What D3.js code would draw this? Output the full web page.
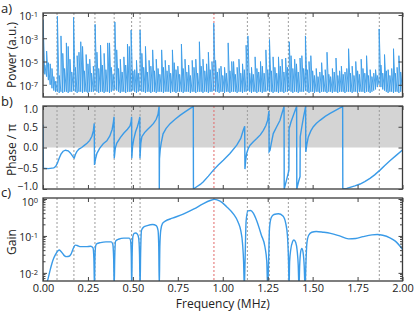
<!DOCTYPE html>
<html>
<head>
<meta charset="utf-8">
<script src="https://cdn.jsdelivr.net/npm/d3@7"></script>
<style>
  body { margin: 0; background: #fff; }
  text { font-family: "Open Sans", sans-serif; fill: #222; }
</style>
</head>
<body>
<div id="chart"></div>
<script>
// ---- data ----
var freqTicks = [0, 0.25, 0.5, 0.75, 1.0, 1.25, 1.5, 1.75, 2.0];
var markerFreqs = [0.078, 0.172, 0.289, 0.396, 0.493, 0.54, 1.137, 1.259, 1.365, 1.462, 1.871];
var redFreq = 0.951;

// panel a: power spectrum, one bin every 0.01 MHz, log10 of power
var binStep = 0.01;
var powerPeakExp = [
  -1.4,-5.3,-4.1,-5.1,-5.2,-5.6,-6.3,-6.7,-1.1,-6.2,
  -2.8,-4.3,-5.6,-3.4,-3.7,-4.8,-5.9,-1.2,-5.5,-4.5,
  -4.2,-3.3,-3.7,-5.8,-4.4,-5.2,-4.8,-6.0,-5.4,-1.8,
  -4.2,-5.6,-3.6,-5.3,-4.3,-5.7,-3.4,-3.4,-5.5,-6.1,
  -1.6,-4.0,-5.6,-4.8,-5.9,-4.6,-5.3,-3.5,-3.7,-2.3,
  -5.8,-5.7,-4.9,-6.0,-2.3,-4.3,-5.5,-3.7,-5.9,-4.9,
  -5.4,-4.0,-5.8,-4.8,-5.6,-6.1,-4.0,-5.5,-4.9,-5.8,
  -5.3,-6.0,-4.0,-5.1,-5.7,-5.4,-6.1,-3.5,-5.6,-4.8,
  -5.9,-5.3,-6.2,-4.9,-5.5,-4.8,-6.0,-3.3,-5.4,-4.8,
  -5.8,-5.2,-4.2,-5.7,-5.0,-1.7,-4.9,-5.9,-5.6,-5.4,
  -6.2,-5.5,-6.0,-3.4,-5.8,-5.0,-5.0,-6.1,-5.5,-4.8,
  -6.0,-5.2,-5.7,-3.6,-2.8,-6.0,-5.5,-6.1,-4.6,-5.6,
  -5.9,-5.0,-5.4,-6.0,-4.0,-5.7,-3.1,-5.8,-4.6,-5.5,
  -6.0,-4.6,-5.4,-4.8,-5.9,-4.7,-5.5,-3.3,-4.5,-5.6,
  -4.8,-5.2,-5.9,-4.7,-4.5,-5.6,-2.8,-5.7,-5.0,-4.5,
  -5.8,-6.2,-5.6,-6.3,-5.9,-5.1,-6.2,-5.7,-4.2,-6.1,
  -6.3,-5.6,-5.9,-4.7,-6.2,-5.8,-5.4,-6.1,-5.9,-5.6,
  -3.9,-6.0,-5.4,-6.2,-5.0,-5.8,-6.1,-4.8,-5.6,-6.0,
  -4.5,-6.2,-5.7,-6.3,-6.0,-5.7,-6.2,-2.2,-5.3,-6.0,
  -4.4,-5.8,-5.7,-6.2,-5.6,-3.9,-6.0,-5.5,-4.5,-5.9,
  -4.8
];
var powerFloorExp = [
  -6.0,-6.1,-6.3,-6.6,-7.0,-7.3,-7.5,-7.6,-7.6,-7.7,
  -7.6,-7.7,-7.6,-7.6,-7.7,-7.6,-7.6,-7.5,-7.6,-7.7,
  -7.6,-7.6,-7.7,-7.6,-7.6,-7.7,-7.6,-7.6,-7.6,-7.5,
  -7.6,-7.7,-7.6,-7.6,-7.7,-7.6,-7.6,-7.7,-7.6,-7.5,
  -7.4,-7.5,-7.6,-7.7,-7.6,-7.6,-7.7,-7.6,-7.6,-7.6,
  -7.5,-7.6,-7.7,-7.6,-7.5,-7.6,-7.6,-7.7,-7.6,-7.6,
  -7.7,-7.6,-7.6,-7.7,-7.6,-7.6,-7.6,-7.7,-7.6,-7.6,
  -7.6,-7.7,-7.6,-7.6,-7.7,-7.6,-7.6,-7.6,-7.7,-7.6,
  -7.6,-7.6,-7.7,-7.6,-7.6,-7.7,-7.6,-7.6,-7.6,-7.7,
  -7.6,-7.6,-7.7,-7.6,-7.6,-7.5,-7.6,-7.6,-7.7,-7.6,
  -7.6,-7.7,-7.6,-7.6,-7.7,-7.6,-7.6,-7.6,-7.7,-7.6,
  -7.6,-7.7,-7.6,-7.6,-7.5,-7.6,-7.7,-7.6,-7.6,-7.7,
  -7.6,-7.6,-7.7,-7.6,-7.6,-7.5,-7.6,-7.6,-7.7,-7.6,
  -7.6,-7.7,-7.6,-7.6,-7.7,-7.6,-7.6,-7.5,-7.6,-7.7,
  -7.6,-7.6,-7.7,-7.6,-7.6,-7.6,-7.5,-7.6,-7.7,-7.6,
  -7.6,-7.7,-7.6,-7.6,-7.7,-7.6,-7.6,-7.6,-7.7,-7.6,
  -7.6,-7.7,-7.6,-7.6,-7.7,-7.6,-7.6,-7.6,-7.7,-7.6,
  -7.6,-7.6,-7.7,-7.6,-7.6,-7.7,-7.6,-7.6,-7.6,-7.7,
  -7.6,-7.6,-7.7,-7.6,-7.5,-7.4,-7.2,-7.0,-7.2,-7.4,
  -7.5,-7.6,-7.7,-7.6,-7.6,-7.7,-7.6,-7.6,-7.7,-7.6,
  -7.6
];
var powerTickExp = [-1, -3, -5, -7];

// panel b: phase / pi
var phaseFreq = [
  0.000,0.002,0.030,0.060,0.070,0.080,0.090,0.100,0.112,0.125,0.140,0.152,0.162,0.170,0.174,
  0.180,0.188,0.200,0.215,0.230,0.245,0.260,0.272,0.280,0.285,0.2865,0.292,0.300,0.315,0.335,
  0.355,0.372,0.385,0.392,0.395,0.3965,0.402,0.410,0.430,0.450,0.470,0.484,0.490,0.493,0.494,
  0.498,0.505,0.515,0.525,0.533,0.5385,0.5395,0.544,0.550,0.565,0.580,0.600,0.615,0.630,0.640,
  0.646,0.647,0.648,0.652,0.658,0.668,0.685,0.707,0.735,0.762,0.790,0.815,0.836,0.837,0.855,
  0.875,0.892,0.920,0.948,0.975,1.003,1.040,1.078,1.100,1.114,1.122,1.1235,1.128,1.133,1.142,
  1.152,1.170,1.189,1.210,1.226,1.240,1.250,1.257,1.258,1.263,1.270,1.281,1.300,1.318,1.328,
  1.335,1.341,1.342,1.355,1.368,1.369,1.380,1.395,1.405,1.411,1.412,1.422,1.430,1.431,1.440,
  1.450,1.458,1.461,1.462,1.468,1.476,1.490,1.504,1.520,1.541,1.570,1.597,1.630,1.655,1.667,
  1.668,1.690,1.708,1.735,1.764,1.790,1.819,1.845,1.875,1.900,1.930,1.965,2.000
];
var phaseVal = [
  0.55,-0.50,-0.51,-0.49,-0.46,-0.38,-0.26,-0.16,-0.09,-0.065,-0.08,-0.13,-0.19,-0.24,-0.25,
  -0.17,-0.10,-0.04,0.00,0.05,0.10,0.17,0.27,0.40,0.58,-0.42,-0.28,-0.14,-0.02,0.09,
  0.16,0.28,0.44,0.62,0.74,-0.26,-0.02,0.10,0.24,0.35,0.44,0.52,0.62,0.74,-0.26,
  0.02,0.20,0.38,0.50,0.62,0.74,-0.26,0.10,0.26,0.36,0.43,0.51,0.58,0.68,0.80,
  0.99,-1.00,-0.27,-0.05,0.12,0.33,0.46,0.575,0.68,0.775,0.86,0.93,0.99,-1.00,-0.945,
  -0.89,-0.825,-0.69,-0.545,-0.42,-0.305,-0.145,0.055,0.22,0.415,0.51,-0.52,-0.30,-0.145,-0.02,
  0.055,0.14,0.215,0.31,0.415,0.53,0.66,0.88,-0.10,-0.065,0.10,0.335,0.50,0.65,0.80,
  0.90,0.99,-1.00,-0.78,-0.55,0.45,0.62,0.80,0.92,0.99,-1.00,-0.82,-0.70,0.26,0.50,
  0.75,0.92,0.99,-0.105,0.08,0.255,0.40,0.50,0.58,0.655,0.75,0.82,0.90,0.96,0.99,
  -1.00,-0.985,-0.96,-0.925,-0.88,-0.82,-0.745,-0.66,-0.545,-0.44,-0.32,-0.19,-0.06
];
var phaseTicks = [-1, -0.5, 0, 0.5, 1];

// panel c: gain, log10 values
var gainFreq = [
  0.020,0.030,0.040,0.050,0.060,0.070,0.080,0.090,0.100,0.110,0.120,0.132,0.145,0.155,0.165,
  0.172,0.180,0.190,0.210,0.240,0.265,0.278,0.283,0.2865,0.289,0.293,0.300,0.320,0.350,0.380,
  0.388,0.393,0.396,0.399,0.404,0.420,0.450,0.480,0.487,0.491,0.4935,0.496,0.500,0.507,0.515,
  0.525,0.532,0.537,0.540,0.543,0.548,0.560,0.580,0.610,0.630,0.640,0.644,0.647,0.650,0.655,
  0.665,0.680,0.720,0.780,0.840,0.890,0.930,0.955,0.985,1.020,1.060,1.085,1.100,1.110,1.116,
  1.120,1.124,1.130,1.140,1.155,1.170,1.190,1.215,1.235,1.245,1.250,1.255,1.260,1.270,1.285,
  1.310,1.335,1.350,1.360,1.366,1.369,1.372,1.378,1.388,1.396,1.406,1.414,1.420,1.424,1.428,
  1.434,1.440,1.447,1.453,1.458,1.463,1.468,1.478,1.495,1.520,1.560,1.600,1.650,1.700,1.740,
  1.780,1.830,1.860,1.890,1.930,1.960,2.000
];
var gainExp = [
  -2.30,-2.12,-1.92,-1.74,-1.60,-1.50,-1.42,-1.38,-1.42,-1.48,-1.54,-1.56,-1.55,-1.50,-1.38,
  -1.30,-1.25,-1.26,-1.29,-1.29,-1.28,-1.32,-1.60,-2.40,-1.60,-1.27,-1.21,-1.18,-1.16,-1.16,
  -1.22,-1.60,-2.40,-1.60,-1.14,-1.09,-1.06,-1.06,-1.12,-1.50,-2.40,-1.50,-1.02,-0.93,-0.92,
  -0.95,-1.05,-1.50,-2.40,-1.50,-0.85,-0.76,-0.72,-0.69,-0.72,-0.85,-1.30,-2.40,-1.30,-0.85,
  -0.66,-0.60,-0.52,-0.41,-0.27,-0.13,-0.04,-0.01,-0.06,-0.20,-0.41,-0.62,-0.85,-1.20,-1.70,
  -2.40,-1.70,-0.60,-0.32,-0.31,-0.38,-0.60,-0.98,-1.30,-1.70,-2.40,-1.70,-0.80,-0.50,-0.42,
  -0.40,-0.46,-0.65,-1.00,-1.70,-2.40,-1.70,-1.38,-1.16,-1.11,-1.18,-1.40,-1.80,-2.40,-1.80,
  -1.42,-1.34,-1.45,-1.80,-2.40,-1.70,-1.20,-0.98,-0.90,-0.88,-0.90,-0.93,-1.00,-1.08,-1.07,
  -1.02,-0.97,-0.96,-0.98,-1.05,-1.14,-1.36
];
var gainTickExp = [0, -1, -2];

// ---- layout ----
var W = 416, H = 312;
var left = 43, right = 402.5;
var panelA = {top: 13, bottom: 97},
    panelB = {top: 106, bottom: 189},
    panelC = {top: 198, bottom: 281};
var blue = "#3a9be8";

var svg = d3.select("#chart").append("svg")
    .attr("width", W)
    .attr("height", H);

var x = d3.scaleLinear().domain([0, 2]).range([left, right]);

var yA = d3.scaleLog().domain([Math.pow(10, -8.05), Math.pow(10, -0.83)]).range([panelA.bottom, panelA.top]);
var yB = d3.scaleLinear().domain([-1, 1]).range([panelB.bottom, panelB.top]);
var yC = d3.scaleLog().domain([Math.pow(10, -2.22), Math.pow(10, 0.027)]).range([panelC.bottom, panelC.top]);

var defs = svg.append("defs");
function clip(id, p) {
  defs.append("clipPath").attr("id", id)
    .append("rect")
      .attr("x", left).attr("y", p.top)
      .attr("width", right - left).attr("height", p.bottom - p.top);
}
clip("clipA", panelA); clip("clipB", panelB); clip("clipC", panelC);

function markers(p) {
  var g = svg.append("g");
  g.selectAll("line.m").data(markerFreqs).enter().append("line")
      .attr("x1", function(d) { return x(d); })
      .attr("x2", function(d) { return x(d); })
      .attr("y1", p.top).attr("y2", p.bottom)
      .attr("stroke", "#9c9c9c").attr("stroke-width", 1)
      .attr("stroke-dasharray", "2,2");
  g.append("line")
      .attr("x1", x(redFreq)).attr("x2", x(redFreq))
      .attr("y1", p.top).attr("y2", p.bottom)
      .attr("stroke", "#e26a6a").attr("stroke-width", 1)
      .attr("stroke-dasharray", "2,2");
}

function xAxes(p, labels) {
  var top = svg.append("g").attr("transform", "translate(0," + p.top + ")")
      .call(d3.axisTop(x).tickValues(freqTicks).tickSize(-4).tickFormat(""));
  top.select(".domain").remove();
  var bot = svg.append("g").attr("transform", "translate(0," + p.bottom + ")")
      .call(d3.axisBottom(x).tickValues(freqTicks).tickSize(-4).tickPadding(3)
        .tickFormat(labels ? d3.format(".2f") : ""));
  bot.select(".domain").remove();
  bot.selectAll("text").style("font-size", "11px").attr("fill", "#222");
  svg.selectAll(".tick line").attr("stroke", "#444");
}

function frame(p) {
  svg.append("rect")
      .attr("x", left).attr("y", p.top)
      .attr("width", right - left).attr("height", p.bottom - p.top)
      .attr("fill", "none").attr("stroke", "#3a3a3a").attr("stroke-width", 1.3);
}

function powLabels(g) {
  g.selectAll("text").each(function(d) {
    var t = d3.select(this);
    var e = Math.round(Math.log10(d));
    t.text(null).style("font-size", "10.5px").attr("y", 1.5);
    t.append("tspan").text("10");
    t.append("tspan").attr("dy", "-0.45em").style("font-size", "7.5px").text(e);
  });
}

function yAxes(scale, ticks, fmt, isLog) {
  var gl = svg.append("g").attr("transform", "translate(" + left + ",0)")
      .call(d3.axisLeft(scale).tickValues(ticks).tickSize(-4).tickPadding(5).tickFormat(fmt));
  gl.select(".domain").remove();
  gl.selectAll("text").style("font-size", "10.5px").attr("fill", "#222");
  var gr = svg.append("g").attr("transform", "translate(" + right + ",0)")
      .call(d3.axisRight(scale).tickValues(ticks).tickSize(-4).tickFormat(""));
  gr.select(".domain").remove();
  gl.selectAll("line").attr("stroke", "#444");
  gr.selectAll("line").attr("stroke", "#444");
  if (isLog) powLabels(gl);
  return gl;
}

// ---- panel a ----
markers(panelA);
var specPts = [];
for (var i = 0; i < powerPeakExp.length; i++) {
  specPts.push([i * binStep, Math.pow(10, powerFloorExp[i])]);
  specPts.push([i * binStep, Math.pow(10, powerPeakExp[i])]);
}
svg.append("path")
    .datum(specPts)
    .attr("clip-path", "url(#clipA)")
    .attr("fill", "none")
    .attr("stroke", blue)
    .attr("stroke-width", 1)
    .attr("stroke-opacity", 0.9)
    .attr("d", d3.line()
      .x(function(d) { return x(d[0]); })
      .y(function(d) { return yA(d[1]); }));
frame(panelA);
xAxes(panelA, false);
yAxes(yA, powerTickExp.map(function(e) { return Math.pow(10, e); }), "", true);

// ---- panel b ----
svg.append("rect")
    .attr("x", left).attr("y", yB(1))
    .attr("width", right - left).attr("height", yB(0) - yB(1))
    .attr("fill", "#d4d4d4");
markers(panelB);
svg.append("path")
    .datum(d3.zip(phaseFreq, phaseVal))
    .attr("clip-path", "url(#clipB)")
    .attr("fill", "none")
    .attr("stroke", blue)
    .attr("stroke-width", 1.4)
    .attr("d", d3.line()
      .x(function(d) { return x(d[0]); })
      .y(function(d) { return yB(d[1]); }));
frame(panelB);
xAxes(panelB, false);
var phaseAxis = yAxes(yB, phaseTicks, d3.format(".1f"), false);
// keep the end labels inside the panel band so they do not collide with neighbours
phaseAxis.selectAll(".tick text").attr("dy", function(d) {
  return d === 1 ? "0.62em" : d === -1 ? "0.05em" : "0.32em";
});

// ---- panel c ----
markers(panelC);
svg.append("path")
    .datum(d3.zip(gainFreq, gainExp))
    .attr("clip-path", "url(#clipC)")
    .attr("fill", "none")
    .attr("stroke", blue)
    .attr("stroke-width", 1.4)
    .attr("d", d3.line()
      .x(function(d) { return x(d[0]); })
      .y(function(d) { return yC(Math.pow(10, d[1])); })
      .curve(d3.curveMonotoneX));
frame(panelC);
xAxes(panelC, true);
var gainAxis = yAxes(yC, gainTickExp.map(function(e) { return Math.pow(10, e); }), "", true);
gainAxis.selectAll(".tick text").attr("y", function(d) { return d === 1 ? 3.5 : 1.5; });
// minor log ticks
var minor = [];
[-3, -2, -1].forEach(function(e) {
  for (var k = 2; k <= 9; k++) {
    var v = k * Math.pow(10, e);
    if (v > yC.domain()[0] && v < yC.domain()[1]) minor.push(v);
  }
});
[left, right].forEach(function(px, side) {
  svg.append("g").selectAll("line").data(minor).enter().append("line")
      .attr("x1", px).attr("x2", side ? px - 2.5 : px + 2.5)
      .attr("y1", function(d) { return yC(d); })
      .attr("y2", function(d) { return yC(d); })
      .attr("stroke", "#444");
});

// ---- titles ----
function yTitle(txt, cy) {
  svg.append("text")
      .attr("transform", "translate(16," + cy + ") rotate(-90)")
      .attr("text-anchor", "middle")
      .style("font-size", "12px")
      .text(txt);
}
yTitle("Power (a.u.)", 55);
yTitle("Phase / \u03c0", 150);
yTitle("Gain", 242);

svg.append("text")
    .attr("x", (left + right) / 2).attr("y", 308)
    .attr("text-anchor", "middle")
    .style("font-size", "12px")
    .text("Frequency (MHz)");

[["a)", 13], ["b)", 106], ["c)", 197]].forEach(function(l) {
  svg.append("text").attr("x", 1).attr("y", l[1])
      .style("font-size", "13px").text(l[0]);
});
</script>
</body>
</html>
